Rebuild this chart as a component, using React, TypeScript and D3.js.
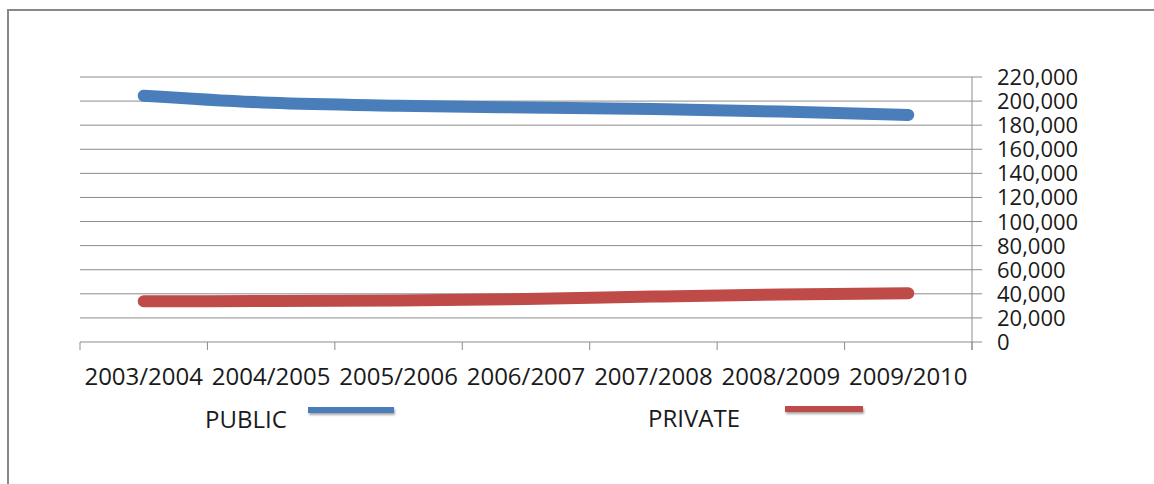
import { useMemo } from 'react';
import * as d3 from 'd3';

// school years on the category axis
const years = ['2003/2004', '2004/2005', '2005/2006', '2006/2007', '2007/2008', '2008/2009', '2009/2010'];

// enrolment
const publicValues = [204500, 198600, 196200, 194700, 193400, 191300, 188500];
const privateValues = [33900, 34000, 34400, 35700, 37700, 39400, 40400];

const yTicks = [0, 20000, 40000, 60000, 80000, 100000, 120000, 140000, 160000, 180000, 200000, 220000];

const WIDTH = 1154;
const HEIGHT = 484;
const FONT = '"Open Sans", "Noto Sans", sans-serif';
const GRID = '#8c8c8c';
const BLUE = '#4a7ebb';
const RED = '#be4b48';

export default function App() {
  const plot = { left: 80, right: 972, top: 77, bottom: 342 };

  const x = useMemo(() => d3.scaleBand<string>().domain(years).range([plot.left, plot.right]), []);
  const y = useMemo(() => d3.scaleLinear().domain([0, 220000]).range([plot.bottom, plot.top]), []);
  const fmt = d3.format(',');

  const line = d3.line<number>()
    .x((_, i) => (x(years[i]) ?? 0) + x.bandwidth() / 2)
    .y(d => y(d))
    .curve(d3.curveMonotoneX);

  // x tick positions: band edges
  const xEdges = [...years.map(c => x(c) ?? 0), plot.right];

  return (
    <svg width={WIDTH} height={HEIGHT} style={{ position: 'absolute', left: 0, top: 0, background: '#fff' }} fontFamily={FONT}>
      <defs>
        <filter id="legendShadow" filterUnits="userSpaceOnUse" x={0} y={380} width={WIDTH} height={60}>
          <feDropShadow dx="1" dy="2" stdDeviation="1.2" floodColor="#000" floodOpacity="0.35" />
        </filter>
      </defs>

      {/* outer chart frame (runs off right and bottom) */}
      <rect x={8} y={10} width={1200} height={520} fill="none" stroke="#888" strokeWidth={2} />

      {/* gridlines + right axis ticks */}
      {yTicks.map(t => (
        <line key={t} x1={plot.left} x2={plot.right + 10} y1={y(t)} y2={y(t)} stroke={GRID} strokeWidth={1} />
      ))}
      <line x1={plot.right} x2={plot.right} y1={plot.top} y2={plot.bottom + 8} stroke={GRID} strokeWidth={1} />

      {/* x ticks */}
      {xEdges.map((xx, i) => (
        <line key={i} x1={xx} x2={xx} y1={plot.bottom} y2={plot.bottom + 8} stroke={GRID} strokeWidth={1} />
      ))}

      {/* y labels */}
      {yTicks.map(t => (
        <text key={t} x={997} y={y(t) + 8} fontSize={22} fill="#1a1a1a">{fmt(t)}</text>
      ))}

      {/* x labels */}
      {years.map(c => (
        <text key={c} x={(x(c) ?? 0) + x.bandwidth() / 2} y={385} fontSize={24} textAnchor="middle" fill="#1a1a1a">{c}</text>
      ))}

      {/* series */}
      <path d={line(publicValues) ?? ''} fill="none" stroke={BLUE} strokeWidth={12} strokeLinecap="round" strokeLinejoin="round" />
      <path d={line(privateValues) ?? ''} fill="none" stroke={RED} strokeWidth={12} strokeLinecap="round" strokeLinejoin="round" />

      {/* legend */}
      <text x={205} y={428} fontSize={24} fill="#1a1a1a">PUBLIC</text>
      <rect x={308} y={407} width={86} height={6} fill={BLUE} filter="url(#legendShadow)" />
      <text x={648} y={427} fontSize={24} fill="#1a1a1a">PRIVATE</text>
      <rect x={785} y={406} width={78} height={6} fill={RED} filter="url(#legendShadow)" />
    </svg>
  );
}
